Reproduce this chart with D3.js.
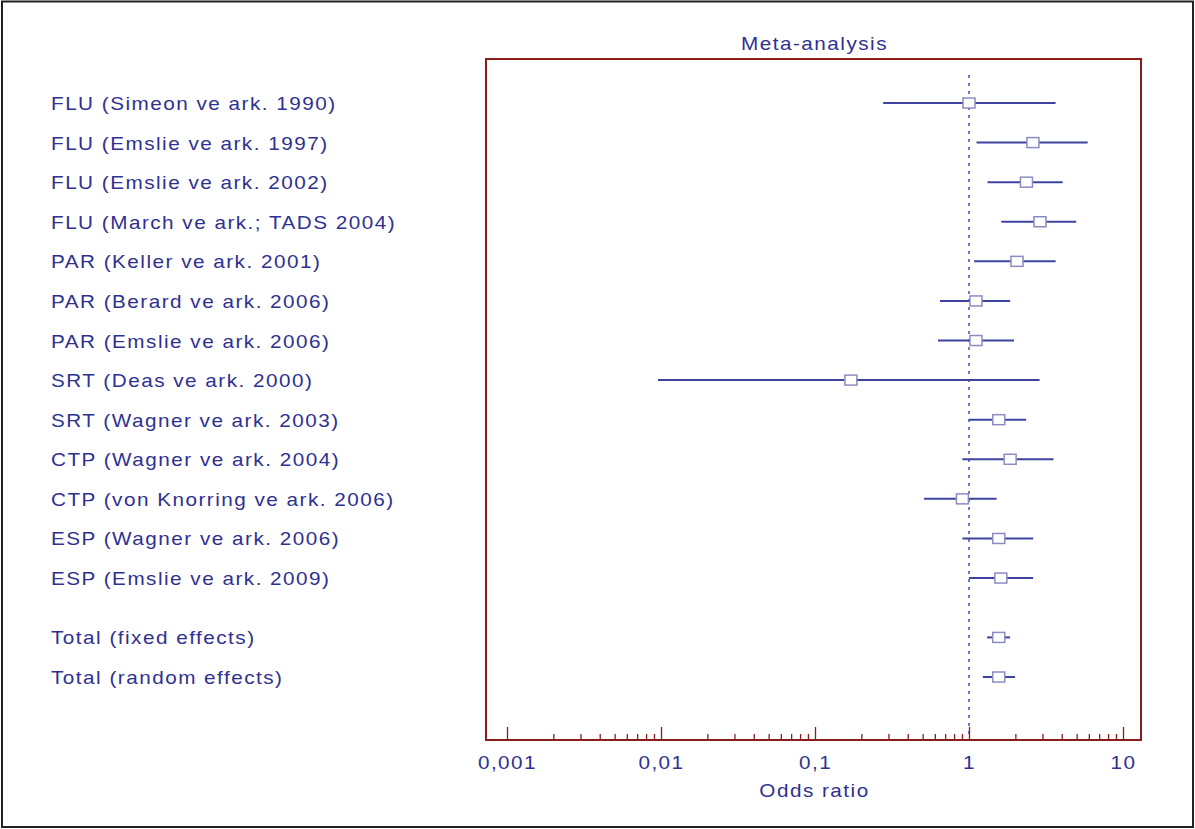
<!DOCTYPE html>
<html>
<head>
<meta charset="utf-8">
<script src="https://cdn.jsdelivr.net/npm/d3@7"></script>
<style>
  body { margin: 0; background: #fff; }
  text { font-family: "Liberation Sans", Arial, sans-serif; fill: #2e3192; letter-spacing: 1.3px; }
</style>
</head>
<body>
<div id="chart"></div>
<script>
// study labels and odds ratios with 95% CI
const studies = [
  "FLU (Simeon ve ark. 1990)",
  "FLU (Emslie ve ark. 1997)",
  "FLU (Emslie ve ark. 2002)",
  "FLU (March ve ark.; TADS 2004)",
  "PAR (Keller ve ark. 2001)",
  "PAR (Berard ve ark. 2006)",
  "PAR (Emslie ve ark. 2006)",
  "SRT (Deas ve ark. 2000)",
  "SRT (Wagner ve ark. 2003)",
  "CTP (Wagner ve ark. 2004)",
  "CTP (von Knorring ve ark. 2006)",
  "ESP (Wagner ve ark. 2006)",
  "ESP (Emslie ve ark. 2009)"
];
const oddsRatio = [1.0, 2.6, 2.36, 2.89, 2.05, 1.11, 1.11, 0.171, 1.56, 1.85, 0.906, 1.56, 1.61];
const ciLow     = [0.277, 1.12, 1.32, 1.62, 1.08, 0.648, 0.629, 0.00957, 1.0, 0.906, 0.51, 0.906, 1.0];
const ciHigh    = [3.65, 5.9, 4.06, 4.97, 3.65, 1.85, 1.96, 2.87, 2.35, 3.54, 1.51, 2.61, 2.61];

const totals = ["Total (fixed effects)", "Total (random effects)"];
const totalOR   = [1.56, 1.56];
const totalLow  = [1.31, 1.23];
const totalHigh = [1.85, 1.99];

const majorTicks = [0.001, 0.01, 0.1, 1, 10];
const tickLabels = ["0,001", "0,01", "0,1", "1", "10"];

// layout
const W = 1195, H = 829;
const box = { left: 486, right: 1141, top: 59, bottom: 740 };
const lineColor = "#3c44a0";
const boxColor = "#8b1c1c";
const stretch = "scale(1.15,1)";   // the original text is a bit wide

const svg = d3.select("#chart").append("svg")
  .attr("width", W).attr("height", H);

// outer frame
svg.append("rect")
  .attr("x", 2).attr("y", 1.5).attr("width", W - 4).attr("height", H - 3.5)
  .attr("fill", "none").attr("stroke", "#222").attr("stroke-width", 2);

const x = d3.scaleLog().domain([0.001, 10]).range([507, 1123]);
const y = d3.scaleLinear().domain([0, 14.5]).range([103, 677]);

// combine rows: studies first, totals after a half-row gap
const rows = studies.map((s, i) => ({ label: s, or: oddsRatio[i], lo: ciLow[i], hi: ciHigh[i], pos: i }))
  .concat(totals.map((s, j) => ({ label: s, or: totalOR[j], lo: totalLow[j], hi: totalHigh[j], pos: studies.length + 0.5 + j })));

// title
svg.append("text")
  .attr("transform", `translate(${(box.left + box.right) / 2 + 1},50) ${stretch}`)
  .attr("text-anchor", "middle").attr("font-size", "18px")
  .text("Meta-analysis");

// line of no effect
svg.append("line")
  .attr("x1", x(1)).attr("x2", x(1))
  .attr("y1", 75).attr("y2", box.bottom)
  .attr("stroke", "#3a3fb0").attr("stroke-width", 1.4)
  .attr("stroke-dasharray", "3,5");

// minor ticks
const minorTicks = [];
majorTicks.slice(0, -1).forEach(m => { for (let k = 2; k <= 9; k++) minorTicks.push(m * k); });

svg.append("g")
  .attr("transform", `translate(0,${box.bottom})`)
  .call(d3.axisBottom(x).tickValues(minorTicks).tickSizeInner(-6).tickSizeOuter(0).tickFormat(""))
  .call(g => g.select(".domain").remove())
  .call(g => g.selectAll("line").attr("stroke", boxColor).attr("stroke-width", 1.3));

// major ticks + labels
svg.append("g")
  .attr("transform", `translate(0,${box.bottom})`)
  .call(d3.axisBottom(x).tickValues(majorTicks).tickSizeInner(-13).tickSizeOuter(0)
    .tickPadding(16).tickFormat((d, i) => tickLabels[i]))
  .call(g => g.select(".domain").remove())
  .call(g => g.selectAll("line").attr("stroke", boxColor).attr("stroke-width", 1.3))
  .call(g => g.selectAll("text").attr("font-size", "18px").attr("transform", stretch)
    .attr("font-family", "Liberation Sans, Arial, sans-serif").attr("fill", "#2e3192"));

svg.append("text")
  .attr("transform", `translate(${(box.left + box.right) / 2 + 1},797) ${stretch}`)
  .attr("text-anchor", "middle").attr("font-size", "18px")
  .text("Odds ratio");

// plot frame
svg.append("rect")
  .attr("x", box.left).attr("y", box.top)
  .attr("width", box.right - box.left).attr("height", box.bottom - box.top)
  .attr("fill", "none").attr("stroke", boxColor).attr("stroke-width", 2);

// row labels
svg.append("g").selectAll("text")
  .data(rows).join("text")
  .attr("transform", d => `translate(51,${y(d.pos) + 7}) ${stretch}`)
  .attr("font-size", "18px")
  .text(d => d.label);

// confidence intervals
svg.append("g").selectAll("line")
  .data(rows).join("line")
  .attr("x1", d => x(d.lo)).attr("x2", d => x(d.hi))
  .attr("y1", d => y(d.pos)).attr("y2", d => y(d.pos))
  .attr("stroke", lineColor).attr("stroke-width", 2);

// point estimates
svg.append("g").selectAll("rect")
  .data(rows).join("rect")
  .attr("x", d => x(d.or) - 6).attr("y", d => y(d.pos) - 5)
  .attr("width", 12).attr("height", 10)
  .attr("fill", "#fff").attr("stroke", "#8c8cc4").attr("stroke-width", 1.5);
</script>
</body>
</html>
